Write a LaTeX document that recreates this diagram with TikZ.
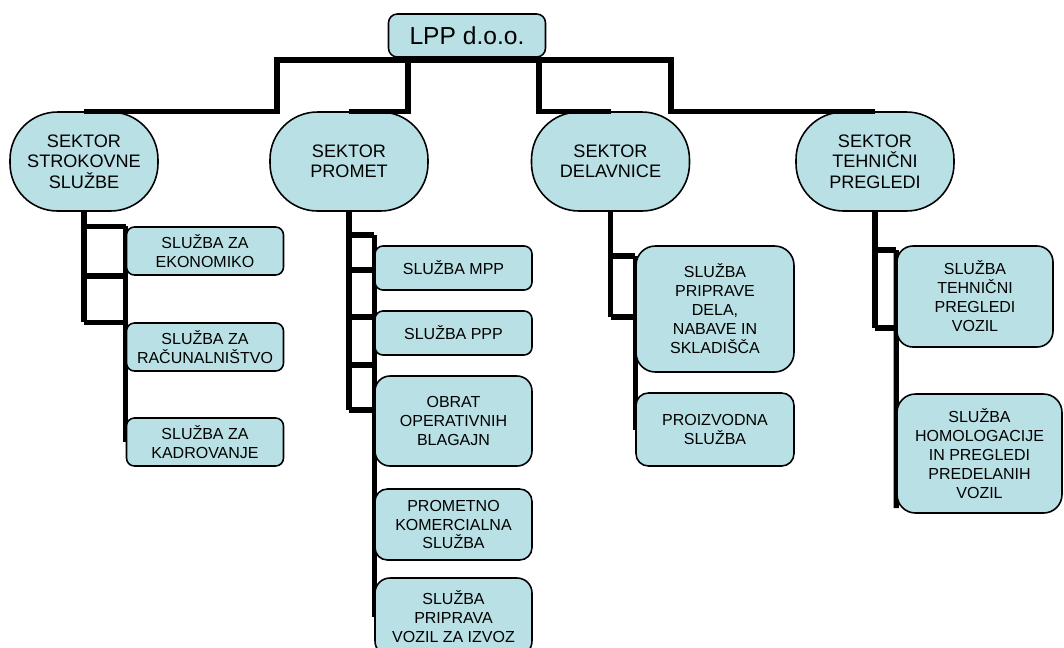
\documentclass[tikz,border=0pt]{standalone}
\usepackage{fontspec}
\setmainfont{Liberation Sans}
\usetikzlibrary{backgrounds}

\definecolor{orgfill}{RGB}{185,224,228}

\tikzset{
	headbox/.style={draw, fill=orgfill, line width=0.9pt, rounded corners=5pt, minimum width=3.14cm, minimum height=0.86cm, inner sep=1pt, font=\fontsize{14}{16}\selectfont},
	sectorbox/.style={draw, fill=orgfill, line width=0.9pt, rounded corners=27pt, minimum width=3.16cm, minimum height=1.98cm, inner sep=1pt, align=center, font=\fontsize{10.3}{11.6}\selectfont},
	unitbox/.style={draw, fill=orgfill, line width=0.9pt, rounded corners=#1, minimum width=3.14cm, inner sep=1pt, align=center, font=\fontsize{9.1}{10.8}\selectfont},
	unitbox/.default=4.5pt,
	orgline/.style={line width=3.1pt}
}

\begin{document}
\begin{tikzpicture}[x=0.02cm, y=-0.02cm]
	\useasboundingbox (0,0) rectangle (1064,647);

	\node[headbox] (lpp) at (467,35.5) {LPP d.o.o.};

	\node[sectorbox, minimum width=2.96cm] (strok) at (84,161.5) {SEKTOR\\STROKOVNE\\SLUŽBE};
	\node[sectorbox] (promet) at (349,161.5) {SEKTOR\\PROMET};
	\node[sectorbox] (delav) at (610.5,161.5) {SEKTOR\\DELAVNICE};
	\node[sectorbox] (tehpr) at (875,161.5) {SEKTOR\\TEHNIČNI\\PREGLEDI};

	\node[unitbox, minimum height=0.96cm] (ekon) at (205,251) {SLUŽBA ZA\\EKONOMIKO};
	\node[unitbox, minimum height=0.96cm] (racun) at (205,347) {SLUŽBA ZA\\RAČUNALNIŠTVO};
	\node[unitbox, minimum height=0.96cm] (kadro) at (205,442) {SLUŽBA ZA\\KADROVANJE};

	\node[unitbox, minimum height=0.88cm] (mpp) at (453.5,268) {SLUŽBA MPP};
	\node[unitbox, minimum height=0.88cm] (ppp) at (453.5,333) {SLUŽBA PPP};
	\node[unitbox=8.5pt, minimum height=1.8cm] (blag) at (453.5,421) {OBRAT\\OPERATIVNIH\\BLAGAJN};
	\node[unitbox=7pt, minimum height=1.42cm] (komer) at (453.5,524.5) {PROMETNO\\KOMERCIALNA\\SLUŽBA};
	\node[unitbox=8.5pt, minimum height=1.56cm] (izvoz) at (453.5,617) {SLUŽBA\\PRIPRAVA\\VOZIL ZA IZVOZ};

	\node[unitbox=11pt, minimum width=3.16cm, minimum height=2.52cm] (sklad) at (715,309) {SLUŽBA\\PRIPRAVE\\DELA,\\NABAVE IN\\SKLADIŠČA};
	\node[unitbox=7pt, minimum width=3.16cm, minimum height=1.46cm] (proiz) at (715,429.5) {PROIZVODNA\\SLUŽBA};

	\node[unitbox=9pt, minimum width=3.12cm, minimum height=2.02cm] (vozil) at (975,296.5) {SLUŽBA\\TEHNIČNI\\PREGLEDI\\VOZIL};
	\node[unitbox=10.5pt, minimum width=3.3cm, minimum height=2.38cm] (homol) at (979.5,453.5) {SLUŽBA\\HOMOLOGACIJE\\IN PREGLEDI\\PREDELANIH\\VOZIL};

	\coordinate (j1) at (277,60);
	\coordinate (j2) at (408,60);
	\coordinate (j3) at (539,60);
	\coordinate (j4) at (671,60);
	\draw[orgline] (strok.north) -| (j1) -- (j4) |- (tehpr.north);
	\draw[orgline] (promet.north) -| (j2);
	\draw[orgline] (j3) |- (delav.north);

	\begin{scope}[on background layer]
		\draw[orgline] (strok.south) -- (strok.south |- racun.north west);
		\foreach \a in {ekon.north west, ekon.south west, racun.north west}
			\draw[orgline] (strok.south |- \a) -- (\a);
		\draw[orgline] (ekon.north west) -- (kadro.west);

		\draw[orgline] (promet.south) -- (promet.south |- 0,410);
		\foreach \y in {235,270,317,365,410}
			\draw[orgline] (promet.south |- 0,\y) -- (mpp.west |- 0,\y);
		\draw[orgline] (mpp.west |- 0,235) -- (izvoz.west);

		\draw[orgline] (delav.south) -- (delav.south |- 0,317);
		\foreach \y in {256,317}
			\draw[orgline] (delav.south |- 0,\y) -- (sklad.west |- 0,\y);
		\draw[orgline] (sklad.west |- 0,256) -- (proiz.west);

		\draw[orgline] (tehpr.south) -- (tehpr.south |- 0,328);
		\foreach \y in {250,328}
			\draw[orgline] (tehpr.south |- 0,\y) -- (vozil.west |- 0,\y);
		\draw[orgline] (vozil.west |- 0,250) -- (homol.west |- 0,508);
	\end{scope}
\end{tikzpicture}
\end{document}
